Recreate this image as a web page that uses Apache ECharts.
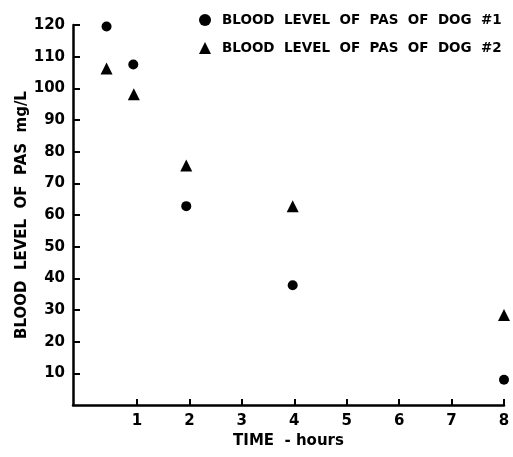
<!DOCTYPE html>
<html>
<head>
<meta charset="utf-8">
<script src="https://cdn.jsdelivr.net/npm/echarts@6/dist/echarts.min.js"></script>
<style>html,body{margin:0;padding:0;background:#fff}#c{width:513px;height:457px}</style>
</head>
<body>
<div id="c"></div>
<script>
var seriesNames = ['BLOOD  LEVEL  OF  PAS  OF  DOG  #1', 'BLOOD  LEVEL  OF  PAS  OF  DOG  #2'];
var hours1 = [0.42, 0.93, 1.94, 3.97, 8];
var dog1 = [119.5, 107.5, 62.8, 37.8, 8];
var hours2 = [0.42, 0.94, 1.94, 3.97, 8];
var dog2 = [106.3, 98.1, 75.6, 62.8, 28.4];
var xTicks = [1, 2, 3, 4, 5, 6, 7, 8];
var yTicks = [10, 20, 30, 40, 50, 60, 70, 80, 90, 100, 110, 120];

function pairs(xs, ys) { return xs.map(function (x, i) { return [x, ys[i]]; }); }

var font = 'DejaVu Sans';
var chart = echarts.init(document.getElementById('c'), null, {renderer: 'canvas'});
chart.setOption({
  animation: false,
  backgroundColor: '#fff',
  grid: {left: 73, right: 9, top: 25, bottom: 52, containLabel: false},
  legend: {
    orient: 'vertical', left: 199, top: 13, padding: 0, itemGap: 14, itemWidth: 12, itemHeight: 12,
    textStyle: {fontFamily: font, fontWeight: 'bold', fontSize: 13.5, color: '#000', padding: [0, 0, 0, 6]},
    itemStyle: {color: '#000', opacity: 1},
    data: [{name: seriesNames[0], icon: 'circle'}, {name: seriesNames[1], icon: 'triangle'}]
  },
  xAxis: {
    type: 'value', min: -0.22, max: 8,
    name: 'TIME  - hours', nameLocation: 'middle', nameGap: 28,
    nameTextStyle: {fontFamily: font, fontWeight: 'bold', fontSize: 15, color: '#000'},
    axisLine: {onZero: false, lineStyle: {color: '#000', width: 2.5}},
    axisTick: {inside: true, length: 6, customValues: xTicks, lineStyle: {color: '#000', width: 2}},
    axisLabel: {customValues: xTicks, margin: 9, fontFamily: font, fontWeight: 'bold', fontSize: 15, color: '#000'},
    splitLine: {show: false}
  },
  yAxis: {
    type: 'value', min: 0, max: 120, interval: 10,
    name: 'BLOOD  LEVEL  OF  PAS  mg/L', nameLocation: 'middle', nameGap: 43, nameRotate: 90,
    nameMoveOverlap: false,
    nameTextStyle: {fontFamily: font, fontWeight: 'bold', fontSize: 15, color: '#000'},
    axisLine: {show: true, onZero: false, lineStyle: {color: '#000', width: 2.5}},
    axisTick: {show: true, inside: true, length: 7, customValues: yTicks, lineStyle: {color: '#000', width: 2}},
    axisLabel: {customValues: yTicks, margin: 8, fontFamily: font, fontWeight: 'bold', fontSize: 15, color: '#000'},
    splitLine: {show: false}
  },
  series: [
    {name: seriesNames[0], type: 'scatter', symbol: 'circle', symbolSize: 10,
     itemStyle: {color: '#000', opacity: 1}, data: pairs(hours1, dog1)},
    {name: seriesNames[1], type: 'scatter', symbol: 'triangle', symbolSize: 12,
     itemStyle: {color: '#000', opacity: 1}, data: pairs(hours2, dog2)}
  ]
});
</script>
</body>
</html>
